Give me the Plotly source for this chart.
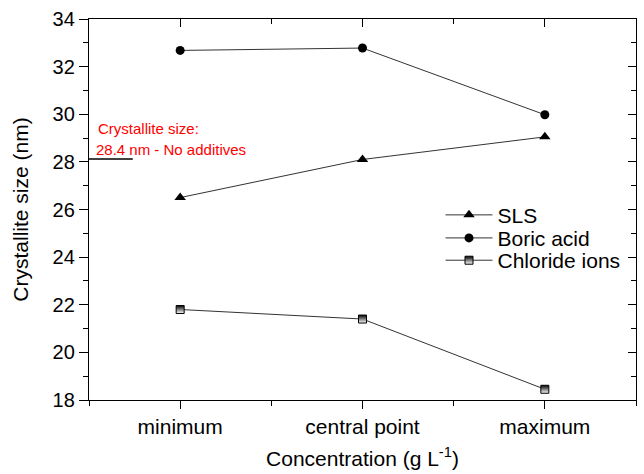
import plotly.graph_objects as go

categories = ["minimum", "central point", "maximum"]
sls = [26.5, 28.1, 29.05]
boric_acid = [32.68, 32.78, 29.98]
chloride_ions = [21.8, 21.4, 18.45]
no_additive_line = 28.12
y_ticks = [18, 20, 22, 24, 26, 28, 30, 32, 34]

xpos = list(range(len(categories)))
FONT = "Arial, Liberation Sans, sans-serif"
LINE = dict(color="#333333", width=1)

fig = go.Figure()
fig.add_trace(go.Scatter(x=xpos, y=sls, name="SLS", mode="lines+markers", legend="legend",
                         line=LINE, marker=dict(symbol="triangle-up", size=10, color="black")))
fig.add_trace(go.Scatter(x=xpos, y=boric_acid, name="Boric acid", mode="lines+markers",
                         legend="legend2",
                         line=LINE, marker=dict(symbol="circle", size=9, color="black")))
fig.add_trace(go.Scatter(x=xpos, y=chloride_ions, name="Chloride ions", mode="lines+markers",
                         legend="legend3",
                         line=LINE, marker=dict(symbol="square", size=8, color="black",
                                                gradient=dict(type="vertical", color="white"),
                                                line=dict(color="black", width=1))))
# invisible trace for mirrored (inside) ticks on top/right
fig.add_trace(go.Scatter(x=[xpos[0]], y=[y_ticks[0]], xaxis="x2", yaxis="y2",
                         mode="markers", marker=dict(opacity=0), showlegend=False, hoverinfo="skip"))

fig.add_shape(type="line", xref="x", yref="y", x0=-0.5, x1=-0.26,
              y0=no_additive_line, y1=no_additive_line, line=dict(color="black", width=1.3))
fig.add_annotation(x=-0.46, y=29.4, xref="x", yref="y", text="Crystallite size:",
                   showarrow=False, xanchor="left", yanchor="middle",
                   font=dict(family=FONT, size=15, color="#ff0000"))
fig.add_annotation(x=-0.475, y=28.52, xref="x", yref="y", text="28.4 nm - No additives",
                   showarrow=False, xanchor="left", yanchor="middle",
                   font=dict(family=FONT, size=15, color="#ff0000"))

legend_common = dict(x=0.6426, xanchor="left", yanchor="middle",
                     bgcolor="rgba(0,0,0,0)", font=dict(family=FONT, size=21), itemwidth=47)

xr = [-0.5, len(categories) - 0.5]
yr = [y_ticks[0], y_ticks[-1]]
fig.update_layout(
    width=644, height=474,
    margin=dict(l=89, r=8, t=16, b=73),
    paper_bgcolor="white", plot_bgcolor="white",
    font=dict(family=FONT, size=21, color="black"),
    showlegend=True,
    legend=dict(y=0.485, **legend_common),
    legend2=dict(y=0.4245, **legend_common),
    legend3=dict(y=0.366, **legend_common),
    xaxis=dict(range=xr, tickvals=xpos, ticktext=categories, showgrid=False, zeroline=False,
               showline=True, linecolor="black", linewidth=1.3, ticks="outside", ticklen=8,
               tickcolor="black", tickwidth=1.3,
               minor=dict(tick0=-0.5, dtick=1, ticks="outside", ticklen=5, tickcolor="black"),
               title=dict(text="Concentration (g L<sup>-1</sup>)", standoff=13, font=dict(size=21)),
               tickfont=dict(size=21)),
    yaxis=dict(range=yr, tickvals=y_ticks, showgrid=False, zeroline=False,
               showline=True, linecolor="black", linewidth=1.3, ticks="outside", ticklen=9,
               tickcolor="black", tickwidth=1.3,
               minor=dict(tick0=0, dtick=1, ticks="outside", ticklen=5, tickcolor="black"),
               title=dict(text="Crystallite size (nm)", standoff=18, font=dict(size=21)),
               tickfont=dict(size=20)),
    xaxis2=dict(range=xr, overlaying="x", side="top", tickvals=xpos, showticklabels=False,
                showgrid=False, zeroline=False, showline=True, linecolor="black", linewidth=1.3,
                ticks="inside", ticklen=8, tickcolor="black", tickwidth=1.3,
                minor=dict(tick0=-0.5, dtick=1, ticks="inside", ticklen=5, tickcolor="black")),
    yaxis2=dict(range=yr, overlaying="y", side="right", tickvals=y_ticks, showticklabels=False,
                showgrid=False, zeroline=False, showline=True, linecolor="black", linewidth=1.3,
                ticks="inside", ticklen=8, tickcolor="black", tickwidth=1.3,
                minor=dict(tick0=0, dtick=1, ticks="inside", ticklen=5, tickcolor="black")),
)

fig.write_html("out.html")
